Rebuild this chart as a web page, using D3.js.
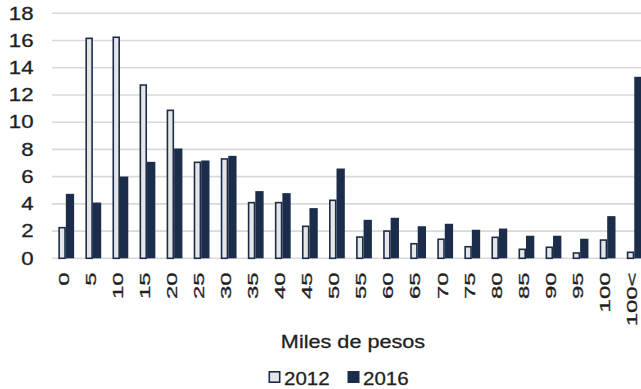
<!DOCTYPE html>
<html>
<head>
<meta charset="utf-8">
<script src="https://cdn.jsdelivr.net/npm/d3@7"></script>
<style>
  html, body { margin: 0; padding: 0; background: #fff; }
  svg { display: block; font-family: "Liberation Sans", Arial, sans-serif; }
  svg text { stroke: #1f1f1f; stroke-width: 0.3px; }
</style>
</head>
<body>
<svg id="chart" width="641" height="389"></svg>
<script>
// Ingreso por rangos (miles de pesos), porcentaje de hogares
const categories = ["0","5","10","15","20","25","30","35","40","45","50","55","60","65","70","75","80","85","90","95","100","100<"];
const values2012 = [2.25,16.16,16.24,12.73,10.87,7.05,7.3,4.09,4.09,2.35,4.26,1.56,2.0,1.07,1.4,0.85,1.54,0.66,0.81,0.39,1.34,0.44];
const values2016 = [4.7,4.06,5.97,7.05,8.03,7.15,7.49,4.9,4.75,3.65,6.56,2.79,2.94,2.32,2.5,2.06,2.15,1.62,1.62,1.4,3.06,13.3];
const seriesNames = ["2012","2016"];
const yTicks = [0,2,4,6,8,10,12,14,16,18];
const axisTitle = "Miles de pesos";

const navy = "#1b2d4b";
const light = "#e6e6e6";
const textColor = "#1f1f1f";

const svg = d3.select("#chart");

const x = d3.scaleBand().domain(categories).range([52.3, 647.8]).padding(0);
const y = d3.scaleLinear().domain([0, 18]).range([258.3, 13.3]);
const xs = d3.scaleBand().domain(seriesNames).range([0, 15]);

// gridlines
svg.append("g").selectAll("line").data(yTicks).join("line")
  .attr("x1", 52).attr("x2", 641)
  .attr("y1", d => y(d)).attr("y2", d => y(d))
  .attr("stroke", "#d9d9d9").attr("stroke-width", 1.6);

// y tick labels
svg.append("g").selectAll("text").data(yTicks).join("text")
  .attr("transform", d => `translate(33.5,${y(d)}) scale(1.27,1)`)
  .attr("text-anchor", "end").attr("dy", "0.36em")
  .attr("font-size", 17.5).attr("fill", textColor)
  .text(d => d);

const rows = categories.map((c, i) => ({ c, v: [values2012[i], values2016[i]] }));

const groups = svg.append("g").selectAll("g").data(rows).join("g")
  .attr("transform", d => `translate(${x(d.c) + x.bandwidth() / 2 - 7.5},0)`);

// 2012 bars: light fill with dark outline
groups.append("rect")
  .attr("x", xs("2012") + 0.8)
  .attr("width", xs.bandwidth() - 1.6)
  .attr("y", d => y(d.v[0]))
  .attr("height", d => y(0) - y(d.v[0]))
  .attr("fill", light).attr("stroke", navy).attr("stroke-width", 1.6);

// 2016 bars: solid navy
groups.append("rect")
  .attr("x", xs("2016"))
  .attr("width", xs.bandwidth() + 0.8)
  .attr("y", d => y(d.v[1]) - 0.5)
  .attr("height", d => y(0) - y(d.v[1]) + 0.5)
  .attr("fill", navy);

// category labels, rotated
svg.append("g").selectAll("text").data(categories).join("text")
  .attr("transform", d => `translate(${x(d) + x.bandwidth() / 2 - 2.5},272.5) rotate(-90) scale(1.65,1)`)
  .attr("text-anchor", "end").attr("dy", "0.36em")
  .attr("font-size", 14.5).attr("fill", textColor)
  .text(d => d);

// axis title
svg.append("text")
  .attr("transform", "translate(353,348.3) scale(1.17,1)")
  .attr("text-anchor", "middle")
  .attr("font-size", 18.5).attr("fill", textColor)
  .text(axisTitle);

// legend
const legend = svg.append("g");
const legendItems = [
  { name: seriesNames[0], x: 268.5, fill: light, stroke: navy },
  { name: seriesNames[1], x: 347.5, fill: navy, stroke: navy }
];
legendItems.forEach(it => {
  legend.append("rect")
    .attr("x", it.x + 0.8).attr("y", 371.8).attr("width", 10.4).attr("height", 10.4)
    .attr("fill", it.fill).attr("stroke", it.stroke).attr("stroke-width", 1.6);
  legend.append("text")
    .attr("transform", `translate(${it.x + 15.5},384.6) scale(1.08,1)`)
    .attr("font-size", 19).attr("fill", textColor)
    .text(it.name);
});
</script>
</body>
</html>
